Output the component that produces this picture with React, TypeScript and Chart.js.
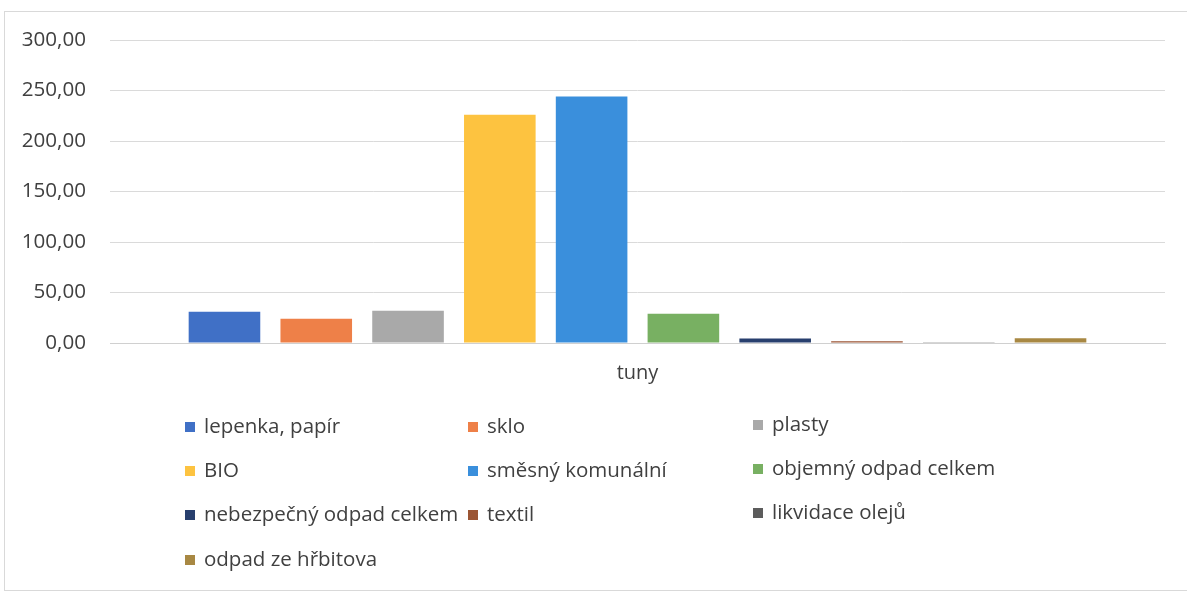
import React, { useEffect, useRef } from "react";
import { Chart, registerables } from "chart.js";

Chart.register(...registerables);

const categories = ["tuny"];
const seriesNames = [
  "lepenka, papír",
  "sklo",
  "plasty",
  "BIO",
  "směsný komunální",
  "objemný odpad celkem",
  "nebezpečný odpad celkem",
  "textil",
  "likvidace olejů",
  "odpad ze hřbitova",
];
const seriesValues = [31, 24, 32, 226, 244, 29, 4.5, 1.8, 0.3, 4.8];
const seriesColors = [
  "#4070c6",
  "#ee8048",
  "#a9a9a9",
  "#fdc340",
  "#3a8fdc",
  "#78b062",
  "#283f6e",
  "#9b5534",
  "#5c5c5c",
  "#a88843",
];
const yTicks = [0, 50, 100, 150, 200, 250, 300];

const FONT = "'Open Sans', 'Noto Sans', sans-serif";
const TEXT = "#404040";

const gridLegend = {
  id: "gridLegend",
  afterDraw(chart: any) {
    const ctx = chart.ctx;
    const colX = [185, 468, 753];
    const rowY = [427, 471, 515, 560];
    ctx.save();
    ctx.font = `20.5px ${FONT}`;
    ctx.textBaseline = "middle";
    ctx.textAlign = "left";
    chart.data.datasets.forEach((ds: any, i: number) => {
      const c = i % 3;
      const r = Math.floor(i / 3);
      const x = colX[c];
      const y = rowY[r] - (c === 2 ? 2 : 0);
      ctx.fillStyle = ds.backgroundColor;
      ctx.fillRect(x, y - 5, 10, 10);
      ctx.fillStyle = TEXT;
      ctx.fillText(ds.label, x + 19, y);
    });
    ctx.restore();
  },
};

export default function App() {
  const ref = useRef<HTMLCanvasElement>(null);
  useEffect(() => {
    document.body.style.margin = "0";
    const chart = new Chart(ref.current!, {
      type: "bar",
      data: {
        labels: categories,
        datasets: seriesNames.map((name, i) => ({
          label: name,
          data: [seriesValues[i]],
          backgroundColor: seriesColors[i],
          borderColor: seriesColors[i],
          borderWidth: 0,
          categoryPercentage: 0.87,
          barPercentage: 0.78,
        })),
      },
      options: {
        animation: false,
        responsive: false,
        maintainAspectRatio: false,
        layout: { padding: { top: 40, right: 22, bottom: 191, left: 0 } },
        plugins: {
          legend: { display: false },
          tooltip: { enabled: false },
        },
        scales: {
          x: {
            grid: { display: false, drawTicks: false },
            border: { display: true, color: "#d0d0d0", width: 1 },
            ticks: { color: TEXT, font: { family: FONT, size: 20 }, padding: 18 },
            afterFit: (s: any) => {
              s.height = 60;
            },
          },
          y: {
            min: 0,
            max: 300,
            afterBuildTicks: (s: any) => {
              s.ticks = yTicks.map((v) => ({ value: v }));
            },
            grid: { color: "#dadada", drawTicks: false },
            border: { display: false },
            ticks: {
              color: TEXT,
              font: { family: FONT, size: 20.6 },
              padding: 24,
              callback: (v: any) => Number(v).toFixed(2).replace(".", ","),
            },
            afterFit: (s: any) => {
              s.width = 110;
            },
          },
        },
      },
      plugins: [gridLegend],
    });
    return () => chart.destroy();
  }, []);
  return (
    <div style={{ position: "relative", width: 1187, height: 594, background: "#fff" }}>
      <div
        style={{
          position: "absolute",
          left: 4,
          top: 11,
          width: 1190,
          height: 580,
          borderLeft: "1px solid #d9d9d9",
          borderTop: "1px solid #d9d9d9",
          borderBottom: "1px solid #d9d9d9",
          boxSizing: "border-box",
        }}
      />
      <canvas ref={ref} width={1187} height={594} style={{ position: "absolute", left: 0, top: 0 }} />
    </div>
  );
}
